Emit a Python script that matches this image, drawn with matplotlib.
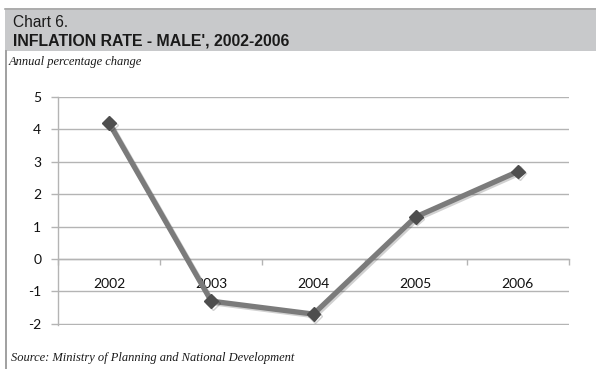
import matplotlib
matplotlib.use("Agg")
import matplotlib.pyplot as plt
import matplotlib.patheffects as pe
from matplotlib.patches import Rectangle
from matplotlib.lines import Line2D

years = ["2002", "2003", "2004", "2005", "2006"]
inflation = [4.2, -1.3, -1.7, 1.3, 2.7]
y_ticks = [-2, -1, 0, 1, 2, 3, 4, 5]

W, H = 596, 369
fig = plt.figure(figsize=(W / 100, H / 100), dpi=100)
fig.patch.set_facecolor("white")

# Header band
fig.patches.append(Rectangle((5 / W, 1 - 51 / H), 1 - 5 / W, 43 / H,
                             transform=fig.transFigure, facecolor="#c8c9cb",
                             edgecolor="none", zorder=0))
fig.lines.append(Line2D([5 / W, 1], [1 - 8.5 / H, 1 - 8.5 / H],
                        transform=fig.transFigure, color="#a8a8a8", lw=1.2))
# Left frame line
fig.lines.append(Line2D([5.5 / W, 5.5 / W], [0, 1 - 51 / H],
                        transform=fig.transFigure, color="#a0a0a0", lw=1.4))

fig.text(13 / W, 1 - 27 / H, "Chart 6.", fontsize=11.2, family="Liberation Sans",
         color="#1a1a1a", va="baseline")
fig.text(13 / W, 1 - 45 / H, "INFLATION RATE - MALE', 2002-2006", fontsize=11.4,
         family="Liberation Sans", weight="bold", color="#1a1a1a", va="baseline")
fig.text(9 / W, 1 - 65 / H, "Annual percentage change", fontsize=9.0,
         family="Liberation Serif", style="italic", color="#1a1a1a", va="baseline")
fig.text(11 / W, 1 - 361 / H, "Source: Ministry of Planning and National Development",
         fontsize=9.0, family="Liberation Serif", style="italic", color="#1a1a1a",
         va="baseline")

ax = fig.add_axes([58 / W, 1 - 324.8 / H, (569 - 58) / W, (324.8 - 97) / H])
ax.set_facecolor("none")
x = list(range(len(years)))
ax.set_xlim(-0.5, len(years) - 0.5)
ax.set_ylim(-2.03, 5.0)

grid_c = "#b4b4b4"
ax.set_yticks(y_ticks)
ax.set_yticklabels([str(v) for v in y_ticks])
ax.yaxis.grid(True, color=grid_c, lw=1.0)
ax.set_axisbelow(True)

for s in ["top", "right"]:
    ax.spines[s].set_visible(False)
ax.spines["left"].set_color(grid_c)
ax.spines["left"].set_linewidth(1.0)
ax.spines["bottom"].set_position(("data", 0))
ax.spines["bottom"].set_color(grid_c)
ax.spines["bottom"].set_linewidth(1.0)

ax.set_xticks([i - 0.5 for i in range(len(years) + 1)])
ax.set_xticklabels([])
ax.set_xticks(x, minor=True)
ax.set_xticklabels(years, minor=True)
ax.tick_params(axis="x", which="major", direction="out", length=4,
               color=grid_c, width=1.0)
ax.tick_params(axis="x", which="minor", length=0, pad=14, labelsize=10,
               labelcolor="#111111")
ax.tick_params(axis="y", length=5, color=grid_c, width=1.0, pad=7,
               labelsize=10, labelcolor="#111111")
for lab in ax.get_xticklabels(minor=True) + ax.get_yticklabels():
    lab.set_family("Lato")

ax.plot(x, inflation, color="#7b7b7b", lw=3.8, marker="D", markersize=7,
        markerfacecolor="#4e4e4e", markeredgecolor="#4e4e4e", zorder=3,
        solid_capstyle="butt",
        path_effects=[pe.SimpleLineShadow(offset=(1.2, -1.2), shadow_color="#000000",
                                          alpha=0.18, rho=0.5),
                      pe.Normal()])

fig.savefig("out.png", dpi=100, facecolor="white")
